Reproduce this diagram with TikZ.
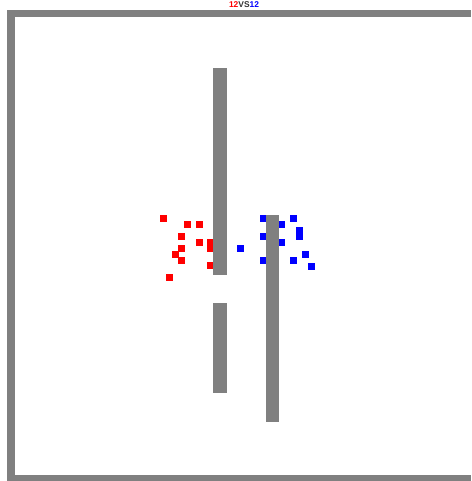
\documentclass[tikz,border=0pt]{standalone}
\usepackage{fontspec}
\setmainfont{Liberation Sans}
\definecolor{wallgray}{HTML}{808080}
\definecolor{redteam}{HTML}{FF0000}
\definecolor{blueteam}{HTML}{0000FF}
\definecolor{vsgray}{HTML}{333333}
\begin{document}
\begin{tikzpicture}[x=1pt,y=-1pt,
  wall/.style={fill=wallgray,draw=none},
  redunit/.style={fill=redteam,draw=none},
  blueunit/.style={fill=blueteam,draw=none}]
\useasboundingbox (0,0) rectangle (471,481);
\fill[white] (0,0) rectangle (471,481);
% outer frame
\fill[wall] (7,10) rectangle (471,17);
\fill[wall] (7,10) rectangle (15,481);
\fill[wall] (7,475) rectangle (471,481);
% red units
\foreach \x/\y in {163.5/218.5,187.5/224.5,199.5/224.5,181.5/236.5,199.5/242.5,210.5/242.5,210.5/248.5,181.5/248.5,175.5/254.5,181.5/260.5,210.5/265.5,169.5/277.5}
  \fill[redunit] (\x-3.5,\y-3.5) rectangle (\x+3.5,\y+3.5);
% blue units
\foreach \x/\y in {263.5/218.5,281.5/224.5,293.5/218.5,299.5/230.5,299.5/236.5,263.5/236.5,281.5/242.5,240.5/248.5,263.5/260.5,293.5/260.5,305.5/254.5,311.5/266.5}
  \fill[blueunit] (\x-3.5,\y-3.5) rectangle (\x+3.5,\y+3.5);
% inner walls
\fill[wall] (213,68) rectangle (226.5,275);
\fill[wall] (213,303) rectangle (226.5,393);
\fill[wall] (266,215) rectangle (279,422);
% title
\node[inner sep=0pt,font=\fontsize{8.4}{9}\selectfont\bfseries] (title) at (244,4.5)
  {\textcolor{redteam}{12}\textcolor{vsgray}{VS}\textcolor{blueteam}{12}};
\end{tikzpicture}
\end{document}
